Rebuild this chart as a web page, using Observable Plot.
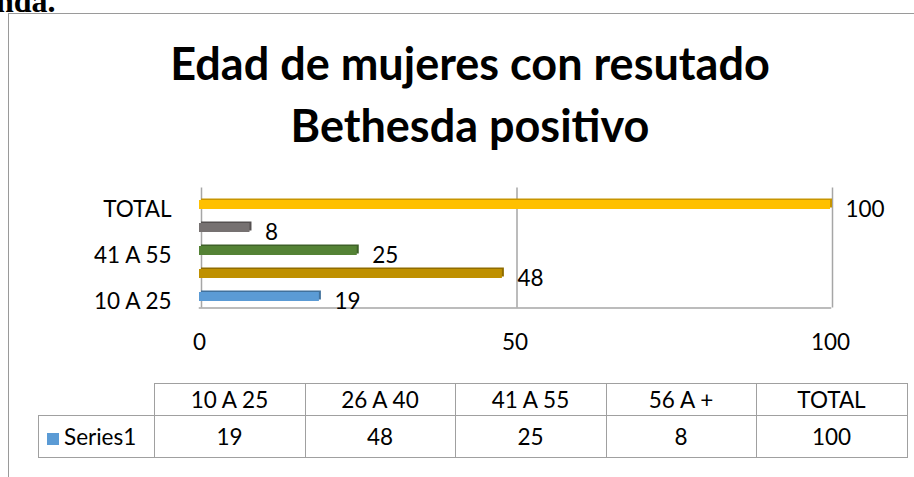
<!DOCTYPE html>
<html>
<head>
<meta charset="utf-8">
<script src="https://cdn.jsdelivr.net/npm/d3@7"></script>
<script src="https://cdn.jsdelivr.net/npm/@observablehq/plot@0.6"></script>
<style>
  html, body { margin: 0; padding: 0; background: #fff; width: 914px; height: 477px; overflow: hidden; position: relative; font-family: Lato, "Open Sans", sans-serif; }
  #prev { position: absolute; left: -4px; top: -17px; font: bold 32px "Liberation Serif", serif; color: #000; }
  #frame { position: absolute; left: 8px; top: 13px; width: 1000px; height: 600px; border-left: 1.3px solid #9a9a9a; border-top: 1.3px solid #9a9a9a; }
  #title { position: absolute; left: 8px; width: 924px; top: 32px; text-align: center; font: bold 45px/62px Lato, sans-serif; color: #000; }
  #chart { position: absolute; left: 0; top: 170px; }
  #tbl { position: absolute; left: 38px; top: 383px; border-collapse: collapse; font: 22.5px Lato, sans-serif; color: #000; }
  #tbl td { border: 1.5px solid #a0a0a0; text-align: center; padding: 0; }
  #tbl tr.h td { height: 31px; }
  #tbl tr.v td { height: 41px; }
  #tbl td.blank { border-top: none; border-left: none; }
  .key { display: inline-block; width: 12px; height: 12px; background: #5B9BD5; margin-right: 5px; vertical-align: 0px; }
</style>
</head>
<body>
<div id="prev">nda.</div>
<div id="frame"></div>
<div id="title">Edad de mujeres con resutado<br>Bethesda positivo</div>
<div id="chart"></div>
<table id="tbl"></table>
<script>
// Data
const categories = ["10 A 25", "26 A 40", "41 A 55", "56 A +", "TOTAL"];
const values = [19, 48, 25, 8, 100];
const colors = ["#5B9BD5", "#BF9000", "#548235", "#767171", "#FFC000"];
const sideColors = ["#41719C", "#8F6C00", "#3E6128", "#545050", "#C79500"];
const xTicks = [0, 50, 100];
const shownCategoryLabels = ["TOTAL", "41 A 55", "10 A 25"];
const seriesName = "Series1";

const data = categories.map((c, i) => ({cat: c, value: values[i], color: colors[i], side: sideColors[i]}));
const order = categories.slice().reverse();

const chart = Plot.plot({
  width: 914,
  height: 190,
  marginLeft: 199,
  marginRight: 84,
  marginTop: 22.5,
  marginBottom: 52.5,
  style: {fontFamily: "Lato, sans-serif", fontSize: "22.5px", color: "#000", background: "transparent"},
  x: {domain: [0, 100]},
  y: {domain: order, padding: 0},
  marks: [
    Plot.ruleX(xTicks, {x: d => d, stroke: "#a6a6a6", strokeWidth: 1.5, dx: 2, insetTop: -5}),
    Plot.frame({anchor: "bottom", stroke: "#a6a6a6", strokeWidth: 1.5}),
    Plot.barX(data, {x: "value", y: "cat", fill: "side", insetTop: 7, insetBottom: 7, dx: 2, dy: -1.5}),
    Plot.barX(data, {x: "value", y: "cat", fill: "color", insetTop: 7, insetBottom: 7}),
    Plot.text(data, {x: "value", y: "cat", text: d => String(d.value), textAnchor: "start", dx: 15, dy: 5, fontSize: 22.5, fill: "#000"}),
    Plot.axisX(xTicks, {tickSize: 0, tickPadding: 26, fontSize: 22.5, label: null, tickFormat: d => String(d)}),
    Plot.axisY(shownCategoryLabels, {tickSize: 0, tickPadding: 28, dy: 5, fontSize: 22.5, label: null})
  ]
});
document.getElementById("chart").appendChild(chart);

// Data table below the chart
const tbl = document.getElementById("tbl");
const colW = [115, 150, 149, 150, 149, 150];
const hr = document.createElement("tr"); hr.className = "h";
const blank = document.createElement("td"); blank.className = "blank"; blank.style.width = colW[0] + "px"; hr.appendChild(blank);
categories.forEach((c, i) => { const td = document.createElement("td"); td.textContent = c; td.style.width = colW[i + 1] + "px"; hr.appendChild(td); });
tbl.appendChild(hr);
const vr = document.createElement("tr"); vr.className = "v";
const lab = document.createElement("td"); lab.style.textAlign = "left"; lab.style.paddingLeft = "8px";
lab.innerHTML = '<span class="key"></span>' + seriesName; vr.appendChild(lab);
values.forEach(v => { const td = document.createElement("td"); td.textContent = v; vr.appendChild(td); });
tbl.appendChild(vr);
</script>
</body>
</html>
